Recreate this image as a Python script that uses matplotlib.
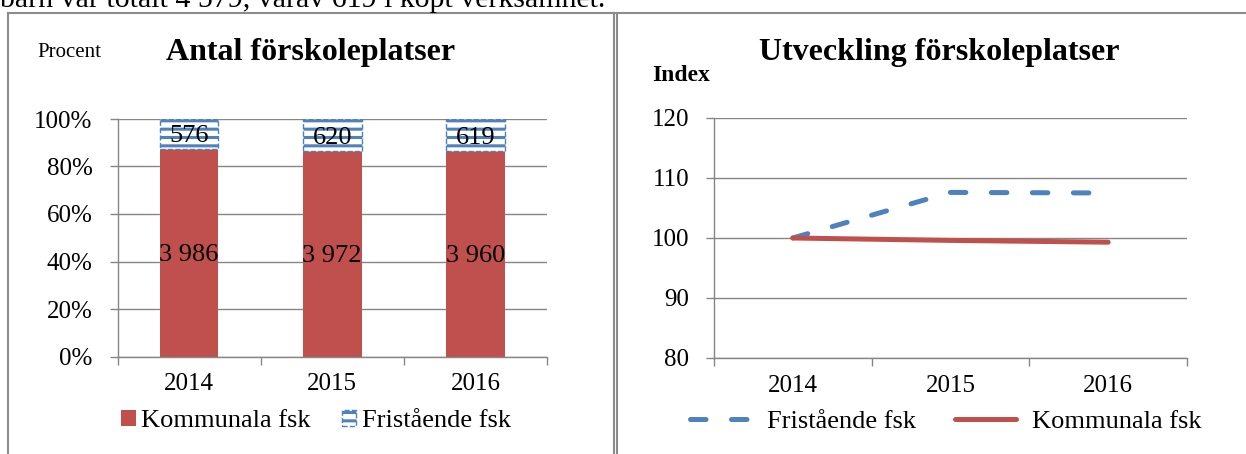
import numpy as np
import matplotlib
matplotlib.use("Agg")
import matplotlib.pyplot as plt
from matplotlib.lines import Line2D
from matplotlib.ticker import FixedLocator

plt.rcParams["font.family"] = ["Liberation Serif", "DejaVu Serif"]
plt.rcParams["hatch.linewidth"] = 2.2

# ------------------------------------------------------------
# Data
# ------------------------------------------------------------
years = ["2014", "2015", "2016"]
kommunala = [3986, 3972, 3960]
fristaende = [576, 620, 619]

index_fristaende = [100, 107.6, 107.5]
index_kommunala = [100, 99.6, 99.3]

RED = "#C0504D"
BLUE = "#4F81BD"
GRID = "#868686"

W, H = 1246, 454
fig = plt.figure(figsize=(W / 100, H / 100), dpi=100)


def fx(px):
    return px / W


def fy(py):
    return 1 - py / H


def style_axes(ax):
    for s in ["top", "right"]:
        ax.spines[s].set_visible(False)
    for s in ["left", "bottom"]:
        ax.spines[s].set_color(GRID)
        ax.spines[s].set_linewidth(1.0)
    ax.grid(axis="y", color=GRID, linewidth=1.0)
    ax.set_axisbelow(True)
    ax.set_xlim(-0.5, 2.5)
    # labels at category centres, tick marks at category borders
    ax.set_xticks(range(len(years)))
    ax.set_xticklabels(years)
    ax.xaxis.set_minor_locator(FixedLocator([-0.5, 0.5, 1.5, 2.5]))
    ax.tick_params(axis="x", which="major", length=0, pad=12, labelsize=18)
    ax.tick_params(axis="x", which="minor", length=6, color=GRID, width=1.0)
    ax.tick_params(axis="y", length=6, color=GRID, width=1.0, pad=12, labelsize=18)


# ------------------------------------------------------------
# Left: 100 % stacked bars
# ------------------------------------------------------------
ax1 = fig.add_axes([fx(117.5), fy(356.5), fx(547 - 117.5), (356.5 - 119) / H])
x = np.arange(len(years))
kom = np.array(kommunala, dtype=float)
fri = np.array(fristaende, dtype=float)
tot = kom + fri
kom_pct = kom / tot * 100
fri_pct = fri / tot * 100

b1 = ax1.bar(x, kom_pct, width=0.41, color=RED, label="Kommunala fsk", zorder=2)
b2 = ax1.bar(x, fri_pct, width=0.41, bottom=kom_pct, facecolor="white",
             edgecolor=BLUE, hatch="--", linestyle="--", linewidth=1.0,
             label="Fristående fsk", zorder=2)

for i in range(len(years)):
    ax1.text(x[i], kom_pct[i] / 2, f"{kommunala[i]:,}".replace(",", " "),
             ha="center", va="center_baseline", fontsize=19, zorder=3)
    ax1.text(x[i], kom_pct[i] + fri_pct[i] / 2, str(fristaende[i]),
             ha="center", va="center_baseline", fontsize=19, zorder=3)

ax1.set_ylim(0, 100)
ax1.set_yticks(np.arange(0, 101, 20))
ax1.set_yticklabels([f"{v}%" for v in range(0, 101, 20)])
style_axes(ax1)

fig.text(fx(311), fy(60), "Antal förskoleplatser", ha="center", va="baseline",
         fontsize=23, fontweight="bold")
fig.text(fx(37), fy(57), "Procent", ha="left", va="baseline", fontsize=15)

fig.legend(handles=[b1, b2], loc="center left", bbox_to_anchor=(fx(121), fy(421)),
           ncol=2, frameon=False, fontsize=19, borderpad=0, borderaxespad=0,
           handlelength=0.55, handleheight=0.55, handletextpad=0.2,
           columnspacing=1.2)

# ------------------------------------------------------------
# Right: index lines
# ------------------------------------------------------------
ax2 = fig.add_axes([fx(714), fy(358), fx(1187 - 714), (358 - 118) / H])
l1, = ax2.plot(x, index_fristaende, color=BLUE, linewidth=3.6,
               linestyle=(0, (3.1, 5.1)), dash_capstyle="round",
               label="Fristående fsk", zorder=3)
l2, = ax2.plot(x, index_kommunala, color=RED, linewidth=3.6,
               solid_capstyle="round", label="Kommunala fsk", zorder=3)
ax2.set_ylim(80, 120)
ax2.set_yticks(np.arange(80, 121, 10))
style_axes(ax2)

fig.text(fx(939), fy(60), "Utveckling förskoleplatser", ha="center", va="baseline",
         fontsize=23, fontweight="bold")
fig.text(fx(652), fy(81), "Index", ha="left", va="baseline", fontsize=17,
         fontweight="bold")

fig.legend(handles=[l1, l2], loc="center left", bbox_to_anchor=(fx(690), fy(421)),
           ncol=2, frameon=False, fontsize=19, borderpad=0, borderaxespad=0,
           handlelength=2.3, handletextpad=0.6, columnspacing=1.5)

# ------------------------------------------------------------
# Page frame and clipped text above it
# ------------------------------------------------------------
fig.text(fx(0), fy(7), "barn var totalt 4 579, varav 619 i köpt verksamhet.",
         ha="left", va="baseline", fontsize=21.5)
frame = dict(transform=fig.transFigure, color="#8C8C8C", linewidth=1.5)
fig.add_artist(Line2D([fx(8), fx(W)], [fy(12.5), fy(12.5)], **frame))
fig.add_artist(Line2D([fx(8), fx(8)], [fy(12.5), fy(H)], **frame))
fig.add_artist(Line2D([fx(614), fx(614)], [fy(12.5), fy(H)], **frame))
fig.add_artist(Line2D([fx(617), fx(617)], [fy(12.5), fy(H)], **frame))

fig.savefig("out.png", dpi=100)
